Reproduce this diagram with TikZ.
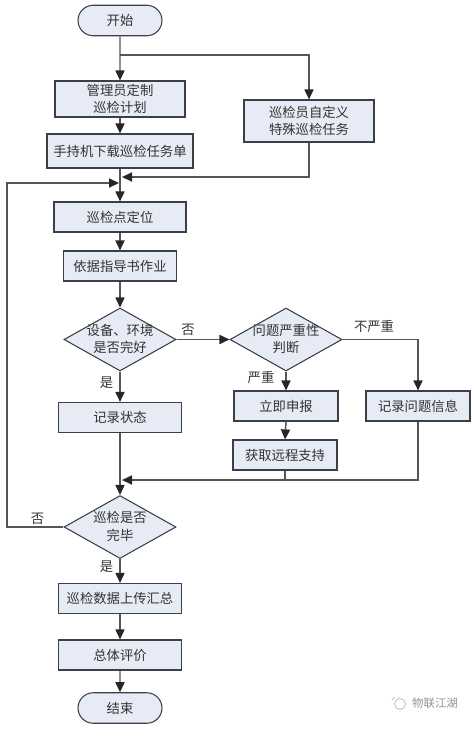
\documentclass[tikz,border=0pt]{standalone}
\usepackage{fontspec}
\setmainfont{Noto Sans CJK SC}
\usetikzlibrary{arrows.meta,shapes.geometric,shapes.misc}
\definecolor{boxfill}{HTML}{E6EBF5}
\definecolor{linec}{HTML}{555555}
\definecolor{edgec}{HTML}{3A3F48}
\definecolor{textc}{HTML}{333333}
\tikzset{
  x=0.75pt,y=-0.75pt,
  every node/.style={font=\fontsize{10pt}{13.2pt}\selectfont,text=textc,inner sep=0pt},
  procbox/.style={draw=edgec,fill=boxfill,line width=0.85pt,align=center,minimum width=#1*0.75pt,minimum height=30*0.75pt},
  procbox/.default=124,
  terminal/.style={draw=edgec,fill=boxfill,line width=0.8pt,rounded rectangle,minimum width=84*0.75pt,minimum height=30.5*0.75pt},
  decision/.style={draw=edgec,fill=boxfill,line width=0.8pt,diamond,aspect=1.77,align=center,minimum width=112*0.75pt,minimum height=63*0.75pt},
  conn/.style={draw=linec,line width=1.1pt},
  flow/.style={conn,-{Triangle[length=7.5pt,width=6.8pt,color=black!85]}},
  lbl/.style={text=textc}
}
\begin{document}
\begin{tikzpicture}
\useasboundingbox (0,0) rectangle (474,729);
\node[terminal] (start) at (120,20.5) {开始};
\node[procbox=130,minimum height=27pt] (plan) at (120,99) {管理员定制\\巡检计划};
\node[procbox=146,minimum height=25.5pt] (down) at (120,151) {手持机下载巡检任务单};
\node[procbox=130,minimum height=31.5pt] (self) at (309,121) {巡检员自定义\\特殊巡检任务};
\node[procbox=132] (locate) at (120,217) {巡检点定位};
\node[procbox=113] (guide) at (120,266) {依据指导书作业};
\node[decision] (check) at (120,339.5) {};
\node[align=center] (checkt) at (120,339) {设备、环境\\是否完好};
\node[decision] (judge) at (286,339.5) {};
\node[align=center] (judget) at (286,339) {问题严重性\\判断};
\node[procbox=123] (record) at (120,417.5) {记录状态};
\node[procbox=104] (report) at (286,406) {立即申报};
\node[procbox=104] (remote) at (285,455) {获取远程支持};
\node[procbox=104] (info) at (418,406) {记录问题信息};
\node[decision] (done) at (120,527) {};
\node[align=center] (donet) at (120,526.5) {巡检是否\\完毕};
\node[procbox=123] (upload) at (120,598.5) {巡检数据上传汇总};
\node[procbox=123] (eval) at (120,655) {总体评价};
\node[terminal] (end) at (120,708) {结束};
\coordinate (split) at (120,55);
\coordinate (selfin) at (122,177);
\coordinate (loopin) at (119,183);
\coordinate (merge) at (122,480);
\coordinate (loopa) at (7,527);
\coordinate (loopb) at (7,183);
\draw[flow] (start) -- (plan);
\draw[flow] (split) -| (self);
\draw[flow] (plan) -- (down);
\draw[flow] (down) -- (locate);
\draw[flow] (self.south) |- (selfin);
\draw[flow] (done.west) -- (loopa) -- (loopb) -- (loopin);
\draw[flow] (locate) -- (guide);
\draw[flow] (guide) -- (check);
\draw[flow] (check) -- (judge);
\draw[flow] (check) -- (record);
\draw[flow] (judge.south) -- (report.north);
\draw[flow] (judge.east) -| (info.north);
\draw[flow] (report.south) -- (remote.north);
\draw[conn] (remote.south) -- (285,480);
\draw[flow] (info.south) |- (merge);
\draw[flow] (record) -- (done);
\draw[flow] (done) -- (upload);
\draw[flow] (upload) -- (eval);
\draw[flow] (eval) -- (end);
\node[lbl] (lno1) at (188,330) {否};
\node[lbl] (lyes1) at (106.5,383) {是};
\node[lbl] (lsev) at (261,377) {严重};
\node[lbl] (lnsev) at (374,326.5) {不严重};
\node[lbl] (lno2) at (37.5,518.5) {否};
\node[lbl] (lyes2) at (106.5,566.5) {是};
\draw[gray!60,line width=0.5pt] (400,704) circle (5.5);
\draw[gray!60,line width=0.5pt,dashed] (392,700) arc (200:300:5);
\node[text=gray!85,font=\fontsize{8.6pt}{10pt}\selectfont] (mark) at (435,703.5) {物联江湖};
\end{tikzpicture}
\end{document}
